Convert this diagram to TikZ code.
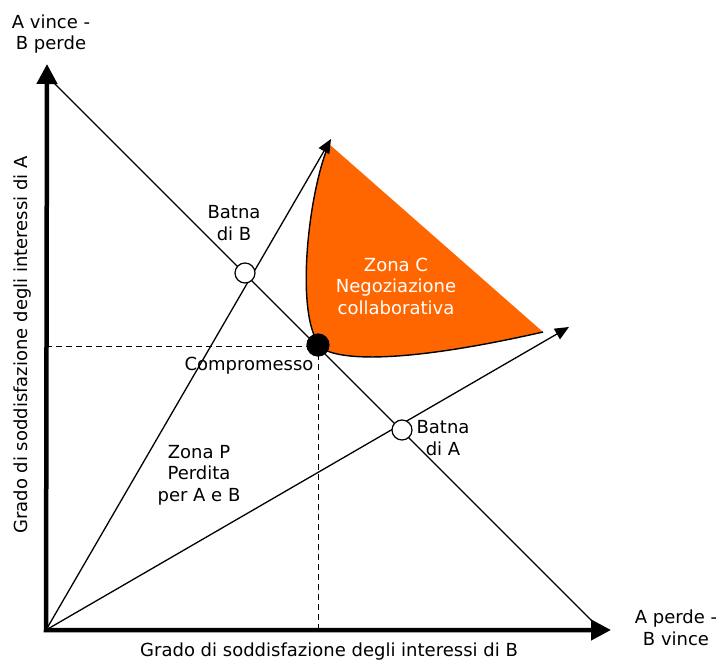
\documentclass[tikz,border=0pt]{standalone}
\usepackage{fontspec}
\setmainfont{DejaVu Sans}
\usepackage{xcolor}
\usetikzlibrary{arrows.meta}
\definecolor{zonaorange}{HTML}{FF6600}

\begin{document}
\begin{tikzpicture}[x=1pt,y=-1pt,
        lbl/.style={font=\fontsize{18}{21.5}\selectfont, align=center, inner sep=0pt},
        punto/.style={circle, draw, line width=1.2pt, fill=white, minimum size=20pt, inner sep=0pt},
        axis/.style={line width=4.5pt, {Triangle[length=20pt,width=20pt]}-{Triangle[length=20pt,width=20pt]}},
        ray/.style={line width=1.3pt, -{Triangle[length=14pt,width=12pt]}}]
        \useasboundingbox (0,0) rectangle (723,663);

        % Key points
        \coordinate (O) at (46,630);
        \coordinate (yend) at (47,64);
        \coordinate (xend) at (611,630);
        \coordinate (dtop) at (54,83);
        \coordinate (dbot) at (594,623);
        \coordinate (rayA) at (331,139);
        \coordinate (rayB) at (569,327);
        \coordinate (cy) at (46,346);
        \coordinate (cx) at (318,630);

        % Zona C (orange area)
        \fill[zonaorange] (329,144) .. controls (307,195) and (293,330) .. (325,350)
            .. controls (350,362) and (420,360) .. (543,332) -- cycle;
        \draw[line width=1.4pt] (329,144) .. controls (307,195) and (293,330) .. (325,350)
            .. controls (350,362) and (420,360) .. (543,332);

        % Draw axes
        \draw[axis, line join=miter] (yend) -- (O) -- (xend);

        % Diagonal and rays
        \draw[line width=1.3pt] (dtop) -- (dbot);
        \draw[ray] (O) -- (rayA);
        \draw[ray] (O) -- (rayB);

        % Dashed guides to the compromise
        \draw[dashed, line width=1pt, dash pattern=on 6pt off 4pt] (cy) -- (318,346) -- (cx);

        % Points
        \node[punto] (batnaB) at (245,273) {};
        \node[punto] (batnaA) at (402,430) {};
        \node[punto, fill=black, minimum size=22pt] (compr) at (318,345) {};

        % Labels
        \node[lbl] (lblBatnaB) at (234,223) {Batna\\di B};
        \node[lbl] (lblBatnaA) at (443,438) {Batna\\di A};
        \node[lbl] (lblCompr) at (249,366) {Compromesso};
        \node[lbl, text=white] (lblZonaC) at (396,286) {Zona C\\Negoziazione\\collaborativa};
        \node[lbl] (lblZonaP) at (199,475) {Zona P\\Perdita\\per A e B};
        \node[lbl] (lblAvince) at (51,34) {A vince -\\B perde};
        \node[lbl] (lblAperde) at (676,628) {A perde -\\B vince};
        \node[lbl] (lblB) at (329,652) {Grado di soddisfazione degli interessi di B};
        \node[lbl, rotate=90] (lblA) at (23,345) {Grado di soddisfazione degli interessi di A};
\end{tikzpicture}
\end{document}
